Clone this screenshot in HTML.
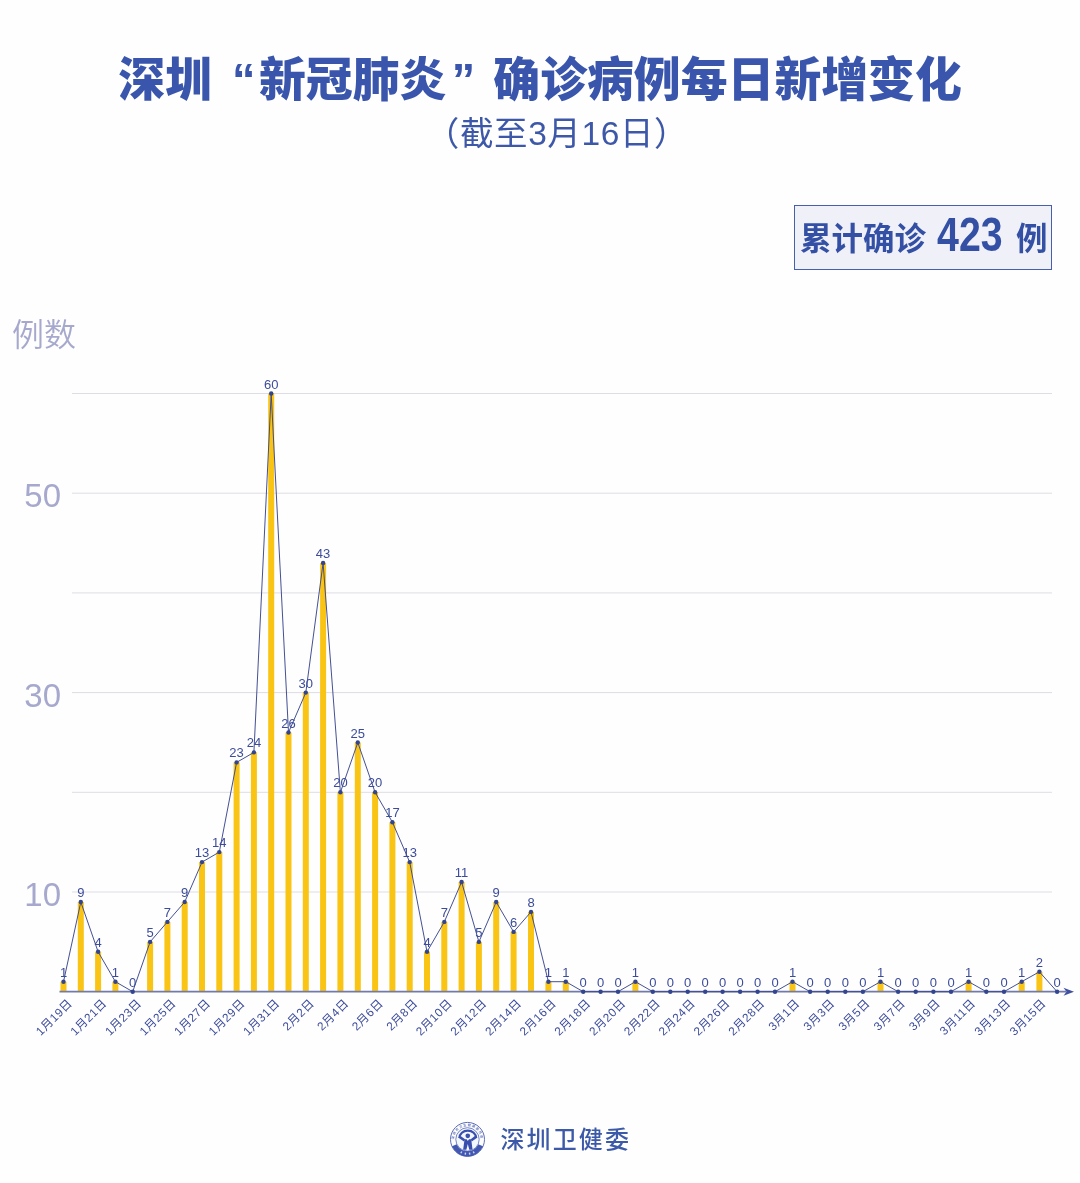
<!DOCTYPE html>
<html lang="zh-CN"><head><meta charset="utf-8"><title>深圳“新冠肺炎”确诊病例每日新增变化</title>
<style>
html,body{margin:0;padding:0;background:#fefefe;}
body{width:1080px;height:1183px;position:relative;overflow:hidden;font-family:"Liberation Sans", "Noto Sans CJK SC", sans-serif;}
#wrap{position:absolute;left:0;top:0;width:1080px;height:1183px;background:#fefefe;overflow:hidden;}
.abs{position:absolute;white-space:nowrap;}
#title{left:0;width:1080px;text-align:center;top:45.5px;font-size:46.85px;line-height:68px;font-weight:900;color:#3a56ac;letter-spacing:0px;}
#title .q{display:inline-block;width:47px;box-sizing:border-box;}
#sub{left:17px;width:1080px;text-align:center;top:112px;font-size:33.5px;line-height:44px;font-weight:400;color:#3d58a8;letter-spacing:0.6px;}
#box{left:794px;top:205px;width:255.5px;height:62.7px;border:1.5px solid #4660ac;background:#eff0f8;color:#3350a4;font-weight:700;}
#box span{position:absolute;white-space:nowrap;}
#ylab{left:12px;top:313.4px;font-size:32px;line-height:44px;font-weight:350;color:#a6a9cd;}
.yt{width:60px;left:1px;text-align:right;font-size:33px;line-height:40px;font-weight:300;color:#a6a9cd;}
#foot{left:500.4px;top:1120.8px;font-size:24px;line-height:38px;font-weight:500;color:#3d5aa9;letter-spacing:2.15px;}
svg{position:absolute;left:0;top:0;}
svg text{font-family:"Liberation Sans", "Noto Sans CJK SC", sans-serif;}
</style></head><body><div id="wrap">
<div class="abs" id="title">深圳<span class="q" style="text-align:right;padding-right:3.6px">“</span>新冠肺炎<span class="q" style="text-align:left;padding-left:5.5px">”</span>确诊病例每日新增变化</div>
<div class="abs" id="sub">（截至3月16日）</div>
<div class="abs" id="box"><span style="left:5px;top:11.3px;font-size:31.5px;line-height:44px;">累计确诊</span><span style="left:142px;top:-0.3px;font-size:48.5px;line-height:56px;transform:scaleX(0.811);transform-origin:0 50%;">423</span><span style="left:221px;top:11.3px;font-size:31.5px;line-height:44px;">例</span></div>
<div class="abs" id="ylab">例数</div>
<div class="abs yt" style="top:476.1px">50</div>
<div class="abs yt" style="top:675.5px">30</div>
<div class="abs yt" style="top:874.9px">10</div>
<svg width="1080" height="1183" viewBox="0 0 1080 1183">
<g stroke="#dedce4" stroke-width="1">
<line x1="72" x2="1052" y1="892.0" y2="892.0"/>
<line x1="72" x2="1052" y1="792.3" y2="792.3"/>
<line x1="72" x2="1052" y1="692.6" y2="692.6"/>
<line x1="72" x2="1052" y1="592.9" y2="592.9"/>
<line x1="72" x2="1052" y1="493.2" y2="493.2"/>
<line x1="72" x2="1052" y1="393.5" y2="393.5"/>
</g>
<g fill="#fac414">
<rect x="60.5" y="981.7" width="6" height="10.0"/>
<rect x="77.8" y="902.0" width="6" height="89.7"/>
<rect x="95.1" y="951.8" width="6" height="39.9"/>
<rect x="112.4" y="981.7" width="6" height="10.0"/>
<rect x="147.1" y="941.9" width="6" height="49.9"/>
<rect x="164.4" y="921.9" width="6" height="69.8"/>
<rect x="181.7" y="902.0" width="6" height="89.7"/>
<rect x="199.0" y="862.1" width="6" height="129.6"/>
<rect x="216.3" y="852.1" width="6" height="139.6"/>
<rect x="233.6" y="762.4" width="6" height="229.3"/>
<rect x="250.9" y="752.4" width="6" height="239.3"/>
<rect x="268.2" y="393.5" width="6" height="598.2"/>
<rect x="285.5" y="732.5" width="6" height="259.2"/>
<rect x="302.8" y="692.6" width="6" height="299.1"/>
<rect x="320.1" y="563.0" width="6" height="428.7"/>
<rect x="337.4" y="792.3" width="6" height="199.4"/>
<rect x="354.8" y="742.5" width="6" height="249.3"/>
<rect x="372.1" y="792.3" width="6" height="199.4"/>
<rect x="389.4" y="822.2" width="6" height="169.5"/>
<rect x="406.7" y="862.1" width="6" height="129.6"/>
<rect x="424.0" y="951.8" width="6" height="39.9"/>
<rect x="441.3" y="921.9" width="6" height="69.8"/>
<rect x="458.6" y="882.0" width="6" height="109.7"/>
<rect x="475.9" y="941.9" width="6" height="49.9"/>
<rect x="493.2" y="902.0" width="6" height="89.7"/>
<rect x="510.6" y="931.9" width="6" height="59.8"/>
<rect x="528.0" y="911.9" width="6" height="79.8"/>
<rect x="545.4" y="981.7" width="6" height="10.0"/>
<rect x="562.8" y="981.7" width="6" height="10.0"/>
<rect x="632.4" y="981.7" width="6" height="10.0"/>
<rect x="789.5" y="981.7" width="6" height="10.0"/>
<rect x="877.5" y="981.7" width="6" height="10.0"/>
<rect x="965.6" y="981.7" width="6" height="10.0"/>
<rect x="1018.7" y="981.7" width="6" height="10.0"/>
<rect x="1036.4" y="971.8" width="6" height="19.9"/>
</g>
<line x1="59.5" x2="1066" y1="991.7" y2="991.7" stroke="#717aab" stroke-width="1.7"/>
<path d="M1074 991.7 L1063.5 987.7 L1066.5 991.7 L1063.5 995.7 Z" fill="#3f50a0"/>
<polyline points="63.5,981.7 80.8,902.0 98.1,951.8 115.4,981.7 132.7,991.7 150.1,941.9 167.4,921.9 184.7,902.0 202.0,862.1 219.3,852.1 236.6,762.4 253.9,752.4 271.2,393.5 288.5,732.5 305.8,692.6 323.1,563.0 340.4,792.3 357.8,742.5 375.1,792.3 392.4,822.2 409.7,862.1 427.0,951.8 444.3,921.9 461.6,882.0 478.9,941.9 496.2,902.0 513.6,931.9 531.0,911.9 548.4,981.7 565.8,981.7 583.2,991.7 600.6,991.7 618.0,991.7 635.4,981.7 652.8,991.7 670.3,991.7 687.7,991.7 705.2,991.7 722.6,991.7 740.1,991.7 757.6,991.7 775.0,991.7 792.5,981.7 810.1,991.7 827.7,991.7 845.3,991.7 862.9,991.7 880.5,981.7 898.1,991.7 915.7,991.7 933.4,991.7 951.0,991.7 968.6,981.7 986.3,991.7 1004.0,991.7 1021.7,981.7 1039.4,971.8 1057.1,991.7" fill="none" stroke="#3a478d" stroke-width="0.95" stroke-linejoin="round"/>
<g fill="#33458f">
<circle cx="63.5" cy="981.7" r="2.2"/>
<circle cx="80.8" cy="902.0" r="2.2"/>
<circle cx="98.1" cy="951.8" r="2.2"/>
<circle cx="115.4" cy="981.7" r="2.2"/>
<circle cx="132.7" cy="991.7" r="2.2"/>
<circle cx="150.1" cy="941.9" r="2.2"/>
<circle cx="167.4" cy="921.9" r="2.2"/>
<circle cx="184.7" cy="902.0" r="2.2"/>
<circle cx="202.0" cy="862.1" r="2.2"/>
<circle cx="219.3" cy="852.1" r="2.2"/>
<circle cx="236.6" cy="762.4" r="2.2"/>
<circle cx="253.9" cy="752.4" r="2.2"/>
<circle cx="271.2" cy="393.5" r="2.2"/>
<circle cx="288.5" cy="732.5" r="2.2"/>
<circle cx="305.8" cy="692.6" r="2.2"/>
<circle cx="323.1" cy="563.0" r="2.2"/>
<circle cx="340.4" cy="792.3" r="2.2"/>
<circle cx="357.8" cy="742.5" r="2.2"/>
<circle cx="375.1" cy="792.3" r="2.2"/>
<circle cx="392.4" cy="822.2" r="2.2"/>
<circle cx="409.7" cy="862.1" r="2.2"/>
<circle cx="427.0" cy="951.8" r="2.2"/>
<circle cx="444.3" cy="921.9" r="2.2"/>
<circle cx="461.6" cy="882.0" r="2.2"/>
<circle cx="478.9" cy="941.9" r="2.2"/>
<circle cx="496.2" cy="902.0" r="2.2"/>
<circle cx="513.6" cy="931.9" r="2.2"/>
<circle cx="531.0" cy="911.9" r="2.2"/>
<circle cx="548.4" cy="981.7" r="2.2"/>
<circle cx="565.8" cy="981.7" r="2.2"/>
<circle cx="583.2" cy="991.7" r="2.2"/>
<circle cx="600.6" cy="991.7" r="2.2"/>
<circle cx="618.0" cy="991.7" r="2.2"/>
<circle cx="635.4" cy="981.7" r="2.2"/>
<circle cx="652.8" cy="991.7" r="2.2"/>
<circle cx="670.3" cy="991.7" r="2.2"/>
<circle cx="687.7" cy="991.7" r="2.2"/>
<circle cx="705.2" cy="991.7" r="2.2"/>
<circle cx="722.6" cy="991.7" r="2.2"/>
<circle cx="740.1" cy="991.7" r="2.2"/>
<circle cx="757.6" cy="991.7" r="2.2"/>
<circle cx="775.0" cy="991.7" r="2.2"/>
<circle cx="792.5" cy="981.7" r="2.2"/>
<circle cx="810.1" cy="991.7" r="2.2"/>
<circle cx="827.7" cy="991.7" r="2.2"/>
<circle cx="845.3" cy="991.7" r="2.2"/>
<circle cx="862.9" cy="991.7" r="2.2"/>
<circle cx="880.5" cy="981.7" r="2.2"/>
<circle cx="898.1" cy="991.7" r="2.2"/>
<circle cx="915.7" cy="991.7" r="2.2"/>
<circle cx="933.4" cy="991.7" r="2.2"/>
<circle cx="951.0" cy="991.7" r="2.2"/>
<circle cx="968.6" cy="981.7" r="2.2"/>
<circle cx="986.3" cy="991.7" r="2.2"/>
<circle cx="1004.0" cy="991.7" r="2.2"/>
<circle cx="1021.7" cy="981.7" r="2.2"/>
<circle cx="1039.4" cy="971.8" r="2.2"/>
<circle cx="1057.1" cy="991.7" r="2.2"/>
</g>
<g font-size="13" fill="#3c4c9b" text-anchor="middle">
<text x="63.5" y="976.7">1</text>
<text x="80.8" y="897.0">9</text>
<text x="98.1" y="946.8">4</text>
<text x="115.4" y="976.7">1</text>
<text x="132.7" y="986.7">0</text>
<text x="150.1" y="936.9">5</text>
<text x="167.4" y="916.9">7</text>
<text x="184.7" y="897.0">9</text>
<text x="202.0" y="857.1">13</text>
<text x="219.3" y="847.1">14</text>
<text x="236.6" y="757.4">23</text>
<text x="253.9" y="747.4">24</text>
<text x="271.2" y="388.5">60</text>
<text x="288.5" y="727.5">26</text>
<text x="305.8" y="687.6">30</text>
<text x="323.1" y="558.0">43</text>
<text x="340.4" y="787.3">20</text>
<text x="357.8" y="737.5">25</text>
<text x="375.1" y="787.3">20</text>
<text x="392.4" y="817.2">17</text>
<text x="409.7" y="857.1">13</text>
<text x="427.0" y="946.8">4</text>
<text x="444.3" y="916.9">7</text>
<text x="461.6" y="877.0">11</text>
<text x="478.9" y="936.9">5</text>
<text x="496.2" y="897.0">9</text>
<text x="513.6" y="926.9">6</text>
<text x="531.0" y="906.9">8</text>
<text x="548.4" y="976.7">1</text>
<text x="565.8" y="976.7">1</text>
<text x="583.2" y="986.7">0</text>
<text x="600.6" y="986.7">0</text>
<text x="618.0" y="986.7">0</text>
<text x="635.4" y="976.7">1</text>
<text x="652.8" y="986.7">0</text>
<text x="670.3" y="986.7">0</text>
<text x="687.7" y="986.7">0</text>
<text x="705.2" y="986.7">0</text>
<text x="722.6" y="986.7">0</text>
<text x="740.1" y="986.7">0</text>
<text x="757.6" y="986.7">0</text>
<text x="775.0" y="986.7">0</text>
<text x="792.5" y="976.7">1</text>
<text x="810.1" y="986.7">0</text>
<text x="827.7" y="986.7">0</text>
<text x="845.3" y="986.7">0</text>
<text x="862.9" y="986.7">0</text>
<text x="880.5" y="976.7">1</text>
<text x="898.1" y="986.7">0</text>
<text x="915.7" y="986.7">0</text>
<text x="933.4" y="986.7">0</text>
<text x="951.0" y="986.7">0</text>
<text x="968.6" y="976.7">1</text>
<text x="986.3" y="986.7">0</text>
<text x="1004.0" y="986.7">0</text>
<text x="1021.7" y="976.7">1</text>
<text x="1039.4" y="966.8">2</text>
<text x="1057.1" y="986.7">0</text>
</g>
<g font-size="11.8" letter-spacing="0.45" fill="#3c4c9b" text-anchor="end">
<text transform="translate(73.0,1004.1) rotate(-45)">1月19日</text>
<text transform="translate(107.5,1004.1) rotate(-45)">1月21日</text>
<text transform="translate(142.1,1004.1) rotate(-45)">1月23日</text>
<text transform="translate(176.6,1004.1) rotate(-45)">1月25日</text>
<text transform="translate(211.2,1004.1) rotate(-45)">1月27日</text>
<text transform="translate(245.7,1004.1) rotate(-45)">1月29日</text>
<text transform="translate(280.3,1004.1) rotate(-45)">1月31日</text>
<text transform="translate(314.8,1004.1) rotate(-45)">2月2日</text>
<text transform="translate(349.3,1004.1) rotate(-45)">2月4日</text>
<text transform="translate(383.9,1004.1) rotate(-45)">2月6日</text>
<text transform="translate(418.4,1004.1) rotate(-45)">2月8日</text>
<text transform="translate(452.9,1004.1) rotate(-45)">2月10日</text>
<text transform="translate(487.5,1004.1) rotate(-45)">2月12日</text>
<text transform="translate(522.1,1004.1) rotate(-45)">2月14日</text>
<text transform="translate(556.8,1004.1) rotate(-45)">2月16日</text>
<text transform="translate(591.5,1004.1) rotate(-45)">2月18日</text>
<text transform="translate(626.3,1004.1) rotate(-45)">2月20日</text>
<text transform="translate(661.0,1004.1) rotate(-45)">2月22日</text>
<text transform="translate(695.8,1004.1) rotate(-45)">2月24日</text>
<text transform="translate(730.7,1004.1) rotate(-45)">2月26日</text>
<text transform="translate(765.5,1004.1) rotate(-45)">2月28日</text>
<text transform="translate(800.4,1004.1) rotate(-45)">3月1日</text>
<text transform="translate(835.5,1004.1) rotate(-45)">3月3日</text>
<text transform="translate(870.6,1004.1) rotate(-45)">3月5日</text>
<text transform="translate(905.8,1004.1) rotate(-45)">3月7日</text>
<text transform="translate(940.9,1004.1) rotate(-45)">3月9日</text>
<text transform="translate(976.1,1004.1) rotate(-45)">3月11日</text>
<text transform="translate(1011.4,1004.1) rotate(-45)">3月13日</text>
<text transform="translate(1046.7,1004.1) rotate(-45)">3月15日</text>
</g>
<g id="logo">
<circle cx="467.5" cy="1139.4" r="17.0" fill="#fdfdff" stroke="#5e6fb6" stroke-width="1"/>
<path d="M483.03 1146.31 A17.0 17.0 0 0 1 451.97 1146.31 L456.81 1144.16 A11.7 11.7 0 0 0 478.19 1144.16 Z" fill="#4257b2"/>
<circle cx="467.5" cy="1139.4" r="11.7" fill="#f3f8ff" stroke="#5567b4" stroke-width="0.8"/>
<path id="ringp" d="M454.33 1141.25 A13.3 13.3 0 1 1 480.67 1141.25" fill="none"/>
<text font-size="3.2" font-weight="700" fill="#6b7bbd" letter-spacing="0.95"><textPath href="#ringp" startOffset="50%" text-anchor="middle">深圳市卫生健康委员会</textPath></text>
<rect x="-0.7" y="-1" width="1.4" height="2" fill="#cfd8f4" transform="translate(461.30,1152.40) rotate(25.5)"/>
<rect x="-0.7" y="-1" width="1.4" height="2" fill="#cfd8f4" transform="translate(465.37,1153.64) rotate(8.5)"/>
<rect x="-0.7" y="-1" width="1.4" height="2" fill="#cfd8f4" transform="translate(469.63,1153.64) rotate(-8.5)"/>
<rect x="-0.7" y="-1" width="1.4" height="2" fill="#cfd8f4" transform="translate(473.70,1152.40) rotate(-25.5)"/>
<g transform="translate(440,1110) scale(0.055556)" fill="#3a4eae">
<path d="M350 505 A150 135 0 0 1 650 505" fill="none" stroke="#3a4eae" stroke-width="42" stroke-linecap="butt"/>
<path d="M332 500 L372 470 L452 528 L432 566 Z"/>
<path d="M668 500 L628 470 L552 528 L572 566 Z"/>
<circle cx="500" cy="465" r="42"/>
<path d="M442 528 L480 528 L500 560 L522 528 L562 528 L586 716 L528 716 L500 610 L474 716 L416 716 Z"/>
</g>
</g>
</svg>
<div class="abs" id="foot">深圳卫健委</div>
</div></body></html>
